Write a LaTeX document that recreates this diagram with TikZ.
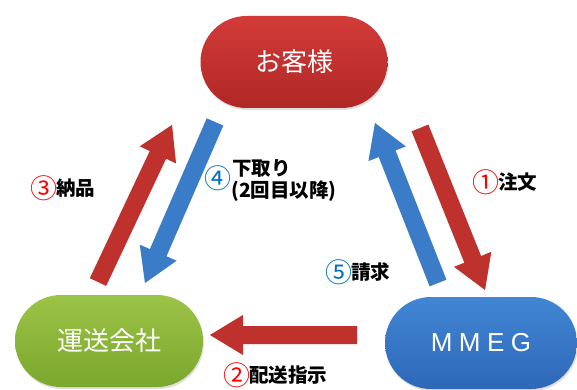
\documentclass[tikz,border=0pt]{standalone}
\usepackage{fontspec}
\usetikzlibrary{calc,shadows}
\newfontfamily\jp{Noto Sans CJK JP}
\newfontfamily\latsp[LetterSpace=25]{Liberation Sans}
\definecolor{redT}{HTML}{D23B38}
\definecolor{redB}{HTML}{B02826}
\definecolor{grnT}{HTML}{9CC447}
\definecolor{grnB}{HTML}{7AA72D}
\definecolor{bluT}{HTML}{4186D4}
\definecolor{bluB}{HTML}{2E68B8}
\definecolor{arrRed}{HTML}{BF312D}
\definecolor{arrBlue}{HTML}{3B7CC9}
\definecolor{numRed}{HTML}{FF0000}
\definecolor{numBlue}{HTML}{0070C0}
\newcommand\cnum[2]{{\mdseries\fontsize{27pt}{27pt}\selectfont\raisebox{-2.6pt}{\textcolor{#1}{#2}}}\hspace{-1pt}}
\newcommand\fatarr[3]{%
  \coordinate (hb) at ($(#2)!33pt!(#1)$);
  \fill[black,opacity=0.18,shift={(1.5,2)}] ($(#1)!9pt!90:(#2)$) -- ($(hb)!9pt!-90:(#1)$) -- ($(hb)!20pt!-90:(#1)$) -- (#2) -- ($(hb)!20pt!90:(#1)$) -- ($(hb)!9pt!90:(#1)$) -- ($(#1)!9pt!-90:(#2)$) -- cycle;
  \fill[#3] ($(#1)!9pt!90:(#2)$) -- ($(hb)!9pt!-90:(#1)$) -- ($(hb)!20pt!-90:(#1)$) -- (#2) -- ($(hb)!20pt!90:(#1)$) -- ($(hb)!9pt!90:(#1)$) -- ($(#1)!9pt!-90:(#2)$) -- cycle;
}
\begin{document}
\begin{tikzpicture}[x=1pt,y=-1pt,
  pill/.style={rectangle, rounded corners=46pt, minimum height=92pt, inner sep=0pt,
    drop shadow={opacity=0.25, shadow xshift=1pt, shadow yshift=-2pt}},
  lbl/.style={anchor=west, inner sep=0pt, font=\jp\bfseries\fontsize{19.5pt}{22pt}\selectfont, text=black},
  bigtxt/.style={font=\jp\fontsize{26pt}{26pt}\selectfont, text=white}]
\useasboundingbox (0,0) rectangle (577,390);
\fill[white] (0,0) rectangle (577,390);

\node[pill, bigtxt, minimum width=187pt, top color=redT, bottom color=redB] (cust) at (294,62) {お客様};
\node[pill, bigtxt, minimum width=188pt, top color=grnT, bottom color=grnB] (carr) at (109,341) {運送会社};
\node[pill, minimum width=192pt, top color=bluT, bottom color=bluB, text=white, font=\latsp\fontsize{26pt}{26pt}\selectfont] (mmeg) at (481,343) {MMEG};

\coordinate (a3s) at (98,282);  \coordinate (a3e) at (172,125);
\coordinate (a4s) at (215,122); \coordinate (a4e) at (145,283);
\coordinate (a5s) at (438,283); \coordinate (a5e) at (375,123);
\coordinate (a1s) at (420,128); \coordinate (a1e) at (485,290);
\coordinate (a2s) at (357,335); \coordinate (a2e) at (210,335);

\fatarr{a3s}{a3e}{arrRed}
\fatarr{a4s}{a4e}{arrBlue}
\fatarr{a5s}{a5e}{arrBlue}
\fatarr{a1s}{a1e}{arrRed}
\fatarr{a2s}{a2e}{arrRed}

\node[lbl] (l3) at (30,188) {\cnum{numRed}{③}納品};
\node[lbl] (l1) at (472,182) {\cnum{numRed}{①}注文};
\node[lbl] (l5) at (325,272) {\cnum{numBlue}{⑤}請求};
\node[lbl] (l2) at (223,375) {\cnum{numRed}{②}配送指示};
\node[lbl] (n4) at (204,178) {\cnum{numBlue}{④}};
\node[lbl] (l4a) at (232,168) {下取り};
\node[lbl] (l4b) at (231,191) {(2回目以降)};
\end{tikzpicture}
\end{document}
